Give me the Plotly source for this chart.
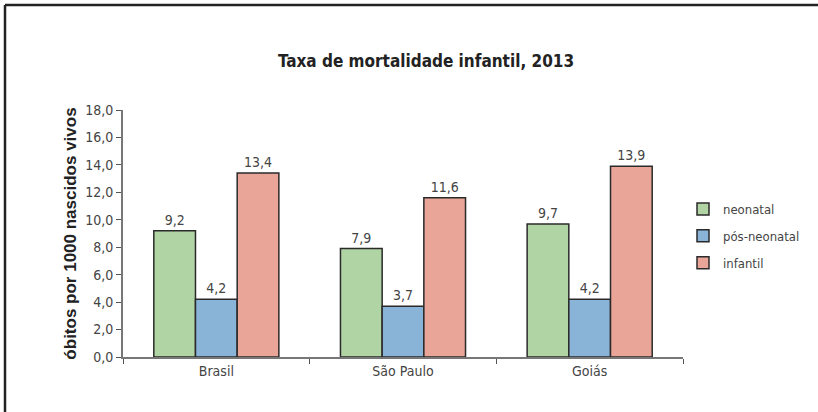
import plotly.graph_objects as go

# Taxa de mortalidade infantil por local, 2013 (óbitos por 1000 nascidos vivos)
locais = ["Brasil", "São Paulo", "Goiás"]
neonatal = [9.2, 7.9, 9.7]
pos_neonatal = [4.2, 3.7, 4.2]
infantil = [13.4, 11.6, 13.9]

series = [
    ("neonatal", neonatal, "#b0d4a3"),
    ("pós-neonatal", pos_neonatal, "#8ab3d8"),
    ("infantil", infantil, "#e8a598"),
]

W, H = 818, 412
M_L, M_R, M_T, M_B = 123, 135, 110, 55
NARROW = "Liberation Sans Narrow, DejaVu Sans Condensed, Arial Narrow, sans-serif"

fig = go.Figure()
for i, (nome, valores, cor) in enumerate(series):
    fig.add_trace(go.Bar(
        name=nome,
        x=locais,
        y=valores,
        legendgroup=f"g{i}",
        marker=dict(color=cor, line=dict(color="#2a2a2a", width=1.5)),
        texttemplate="%{y:.1f}",
        textposition="outside",
        textfont=dict(family=NARROW, size=14, color="#444444"),
        cliponaxis=False,
    ))

# frame lines along the top and left edges of the page
pw = W - M_L - M_R
ph = H - M_T - M_B
fx = (5 - M_L) / pw
fy = 1 + (M_T - 5) / ph
frame = dict(color="#222222", width=2.5)
fig.add_shape(type="line", xref="paper", yref="paper",
              x0=fx, x1=(W - M_L) / pw, y0=fy, y1=fy, line=frame)
fig.add_shape(type="line", xref="paper", yref="paper",
              x0=fx, x1=fx, y0=fy, y1=-(M_B) / ph, line=frame)

fig.update_layout(
    width=W, height=H,
    margin=dict(l=M_L, r=M_R, t=M_T, b=M_B, pad=0),
    paper_bgcolor="white",
    plot_bgcolor="white",
    separators=",.",
    barmode="group",
    bargap=0.33,
    bargroupgap=0,
    showlegend=True,
    title=dict(
        text="<b>Taxa de mortalidade infantil, 2013</b>",
        font=dict(family=NARROW, size=17, color="#222222"),
        x=426 / W, xanchor="center", xref="container",
        y=1 - 61 / H, yanchor="middle", yref="container",
    ),
    legend=dict(
        x=1.0, xanchor="left", y=0.49, yanchor="middle",
        font=dict(family=NARROW, size=13, color="#444444"),
        tracegroupgap=7,
        traceorder="grouped",
        bgcolor="rgba(0,0,0,0)",
    ),
    xaxis=dict(
        showline=True, linecolor="#777777", linewidth=2,
        ticks="outside", tickson="boundaries", ticklen=5, tickcolor="#555555",
        tickfont=dict(family=NARROW, size=14, color="#444444"),
        showgrid=False, zeroline=False,
    ),
    yaxis=dict(
        range=[0, 18], dtick=2, tickformat=".1f",
        showline=True, linecolor="#777777", linewidth=2,
        ticks="outside", ticklen=5, tickcolor="#555555",
        tickfont=dict(family=NARROW, size=14, color="#444444"),
        showgrid=False, zeroline=False,
        title=dict(text="<b>óbitos por 1000 nascidos vivos</b>",
                   font=dict(family="Liberation Sans, Arial, sans-serif", size=17, color="#222222"),
                   standoff=4),
    ),
)

fig.write_html("out.html")
